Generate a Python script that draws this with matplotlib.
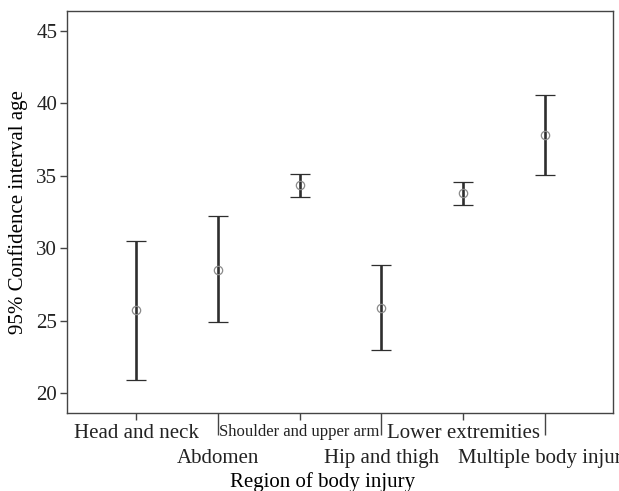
import matplotlib
matplotlib.use("Agg")
import matplotlib.pyplot as plt
import numpy as np

matplotlib.rcParams.update({
    "font.family": ["Liberation Serif", "DejaVu Serif"],
    "font.size": 15,
    "axes.edgecolor": "#444444",
    "axes.linewidth": 1.0,
    "xtick.color": "#444444", "ytick.color": "#444444",
    "xtick.labelcolor": "#222222", "ytick.labelcolor": "#222222",
})

# ── Data ──────────────────────────────────────────────────────
regions = ["Head and neck", "Abdomen", "Shoulder and upper arm",
           "Hip and thigh", "Lower extremities", "Multiple body injury"]
mean_age = [25.7, 28.5, 34.35, 25.9, 33.8, 37.85]
ci_low   = [20.9, 24.9, 33.55, 23.0, 32.95, 35.05]
ci_high  = [30.5, 32.2, 35.15, 28.85, 34.6, 40.6]
y_ticks  = [20, 25, 30, 35, 40, 45]

mean_age, ci_low, ci_high = map(np.array, (mean_age, ci_low, ci_high))
x = np.arange(len(regions))

fig = plt.figure(figsize=(6.19, 4.91), dpi=100)
ax = fig.add_axes([0.1082, 0.1589, 0.8821, 0.8187])

ax.errorbar(x, mean_age, yerr=[mean_age - ci_low, ci_high - mean_age],
            fmt="o", mfc="none", mec="#8a8a8a", mew=0.9, ms=6,
            ecolor="#2e2e2e", elinewidth=1.9, capsize=7.4, capthick=2.2)

ax.set_xlim(-0.843, 5.83)
ax.set_ylim(18.62, 46.38)
ax.set_yticks(y_ticks)
ax.tick_params(axis="y", length=5, width=1.0, pad=2)

# alternate rows: even labels on top row, odd labels one row lower with long ticks
ax.set_xticks(x[::2], [regions[i] for i in x[::2]])
ax.set_xticks(x[1::2], [regions[i] for i in x[1::2]], minor=True)
ax.tick_params(axis="x", which="major", length=5, width=1.0, pad=3)
ax.tick_params(axis="x", which="minor", length=16, width=1.0, pad=10)
for lab in ax.get_xticklabels():
    if lab.get_text().startswith("Shoulder"):
        lab.set_fontsize(12)

ax.set_xlabel("Region of body injury")
ax.xaxis.set_label_coords(0.469, -0.147)
ax.set_ylabel("95% Confidence interval age", labelpad=6)

fig.savefig("out.png", dpi=100)
